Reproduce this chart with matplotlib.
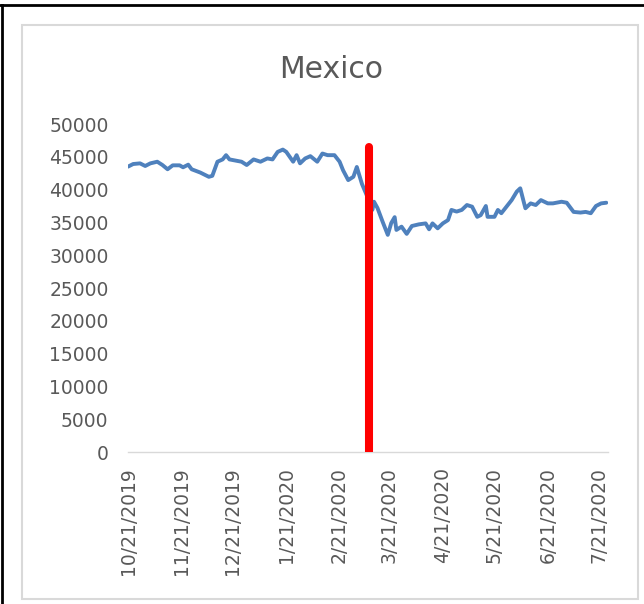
import matplotlib
matplotlib.use("Agg")
import matplotlib.pyplot as plt
import matplotlib.dates as mdates
from matplotlib.lines import Line2D
from matplotlib.patches import Rectangle
import numpy as np

# series: Mexico index level
dates = ["2019-10-21", "2019-10-24", "2019-10-28", "2019-10-31", "2019-11-03",
         "2019-11-07", "2019-11-10", "2019-11-13", "2019-11-16", "2019-11-20",
         "2019-11-22", "2019-11-25", "2019-11-27", "2019-12-02", "2019-12-07",
         "2019-12-09", "2019-12-12", "2019-12-15", "2019-12-17", "2019-12-19",
         "2019-12-23", "2019-12-26", "2019-12-29", "2020-01-02", "2020-01-06",
         "2020-01-10", "2020-01-13", "2020-01-16", "2020-01-19", "2020-01-21",
         "2020-01-25", "2020-01-27", "2020-01-29", "2020-02-01", "2020-02-04",
         "2020-02-08", "2020-02-11", "2020-02-14", "2020-02-18", "2020-02-21",
         "2020-02-23", "2020-02-26", "2020-02-29", "2020-03-02", "2020-03-05",
         "2020-03-08", "2020-03-10", "2020-03-11", "2020-03-12", "2020-03-14",
         "2020-03-17", "2020-03-20", "2020-03-22", "2020-03-24", "2020-03-25",
         "2020-03-28", "2020-03-31", "2020-04-03", "2020-04-07", "2020-04-11",
         "2020-04-13", "2020-04-15", "2020-04-18", "2020-04-21", "2020-04-24",
         "2020-04-26", "2020-04-29", "2020-05-02", "2020-05-05", "2020-05-08",
         "2020-05-11", "2020-05-13", "2020-05-16", "2020-05-17", "2020-05-21",
         "2020-05-23", "2020-05-25", "2020-05-28", "2020-05-31", "2020-06-03",
         "2020-06-05", "2020-06-07", "2020-06-08", "2020-06-11", "2020-06-14",
         "2020-06-17", "2020-06-21", "2020-06-24", "2020-06-29", "2020-07-02",
         "2020-07-06", "2020-07-10", "2020-07-13", "2020-07-16", "2020-07-19",
         "2020-07-22", "2020-07-25"]
values = [43500, 43900, 44000, 43600, 44000,
          44250, 43750, 43100, 43700, 43700,
          43400, 43800, 43100, 42600, 41950,
          42100, 44250, 44600, 45250, 44600,
          44400, 44250, 43750, 44600, 44250,
          44750, 44600, 45750, 46100, 45750,
          44250, 45250, 44000, 44750, 45100,
          44250, 45500, 45250, 45250, 44250,
          42950, 41450, 41950, 43450, 40850,
          39000, 38400, 36900, 38150, 37200,
          35100, 33100, 34900, 35800, 33850,
          34350, 33250, 34450, 34700, 34850,
          33950, 34850, 34100, 34850, 35350,
          36900, 36650, 36900, 37650, 37400,
          35850, 36100, 37500, 35850, 35850,
          36900, 36400, 37400, 38400, 39700,
          40200, 38150, 37150, 37900, 37650,
          38400, 37900, 37900, 38150, 38000,
          36600, 36500, 36600, 36400, 37500,
          37900, 38000]

# marker bar for the event date
event_date = "2020-03-09"
event_value = 46500

tick_dates = ["2019-10-21", "2019-11-21", "2019-12-21", "2020-01-21", "2020-02-21",
              "2020-03-21", "2020-04-21", "2020-05-21", "2020-06-21", "2020-07-21"]
y_ticks = [0, 5000, 10000, 15000, 20000, 25000, 30000, 35000, 40000, 45000, 50000]

W, H = 644, 604
fig = plt.figure(figsize=(W / 100, H / 100), dpi=100)

# chart area frame and outer border
fig.add_artist(Rectangle((22 / W, 1 - 599 / H), 616 / W, 574 / H,
                         transform=fig.transFigure, fill=False,
                         edgecolor="#d9d9d9", lw=1.5))
fig.add_artist(Line2D([0, 1], [1 - 5 / H, 1 - 5 / H], transform=fig.transFigure,
                      color="black", lw=2))
fig.add_artist(Line2D([2 / W, 2 / W], [0, 1 - 5 / H], transform=fig.transFigure,
                      color="black", lw=2))

ax = fig.add_axes([128 / W, 1 - 452 / H, 480 / W, 328 / H])

x = np.array(dates, dtype="datetime64[D]")
ax.plot(x, values, color="#4f81bd", lw=2.8, solid_joinstyle="round",
        solid_capstyle="round", zorder=3)
ev = np.datetime64(event_date)
ax.plot([ev, ev], [0, event_value], color="#ff0000", lw=5.8,
        solid_capstyle="round", zorder=4)

ax.set_xlim(np.datetime64("2019-10-21"), np.datetime64("2020-07-26"))
ax.set_ylim(0, 50000)

ax.set_yticks(y_ticks)
ax.set_yticklabels([str(v) for v in y_ticks])
ax.set_xticks(np.array(tick_dates, dtype="datetime64[D]"))
ax.xaxis.set_major_formatter(
    plt.FuncFormatter(lambda v, p: "{d.month}/{d.day}/{d.year}".format(d=mdates.num2date(v))))

for s in ["top", "right", "left"]:
    ax.spines[s].set_visible(False)
ax.spines["bottom"].set_color("#d9d9d9")
ax.spines["bottom"].set_linewidth(1)
ax.tick_params(axis="y", length=0, pad=14, labelsize=13.5, labelcolor="#595959")
ax.tick_params(axis="x", length=0, pad=11, labelsize=13.5, labelcolor="#595959",
               labelrotation=90)

fig.text(331 / W, 1 - 78 / H, "Mexico", ha="center", va="baseline",
         fontsize=21.5, color="#595959")

fig.savefig("out.png", dpi=100)
